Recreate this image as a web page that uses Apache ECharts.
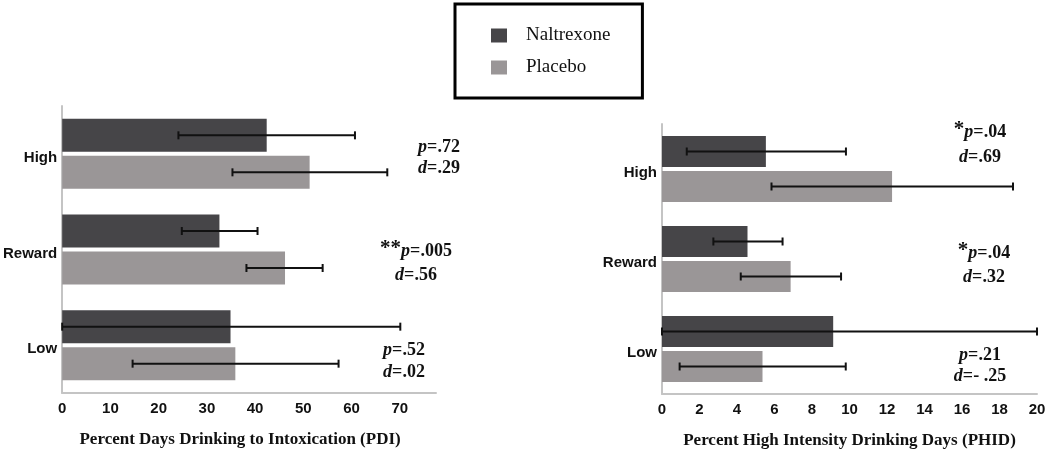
<!DOCTYPE html>
<html>
<head>
<meta charset="utf-8">
<script src="https://cdn.jsdelivr.net/npm/echarts@6/dist/echarts.min.js"></script>
<style>
html,body{margin:0;padding:0;background:#fff;}
#chart{width:1050px;height:460px;}
</style>
</head>
<body>
<div id="chart"></div>
<script>
const categories = ['High', 'Reward', 'Low'];
const seriesNames = ['Naltrexone', 'Placebo'];

// Left panel: Percent Days Drinking to Intoxication (PDI)
const pdiNaltrexone = [42.4, 32.6, 34.9];
const pdiPlacebo = [51.3, 46.2, 35.9];
const pdiNaltrexoneErrLow = [24.1, 24.8, 0];
const pdiNaltrexoneErrHigh = [60.7, 40.5, 70.1];
const pdiPlaceboErrLow = [35.3, 38.2, 14.6];
const pdiPlaceboErrHigh = [67.4, 54.0, 57.3];
const pdiTicks = [0, 10, 20, 30, 40, 50, 60, 70];
const pdiStars = ['', '**', ''];
const pdiP = ['.72', '.005', '.52'];
const pdiD = ['.29', '.56', '.02'];

// Right panel: Percent High Intensity Drinking Days (PHID)
const phidNaltrexone = [5.54, 4.56, 9.13];
const phidPlacebo = [12.27, 6.86, 5.36];
const phidNaltrexoneErrLow = [1.32, 2.74, 0];
const phidNaltrexoneErrHigh = [9.81, 6.43, 20.0];
const phidPlaceboErrLow = [5.84, 4.2, 0.94];
const phidPlaceboErrHigh = [18.72, 9.55, 9.8];
const phidTicks = [0, 2, 4, 6, 8, 10, 12, 14, 16, 18, 20];
const phidStars = ['*', '*', ''];
const phidP = ['.04', '.04', '.21'];
const phidD = ['.69', '.32', '- .25'];

const titles = ['Percent Days Drinking to Intoxication (PDI)', 'Percent High Intensity Drinking Days (PHID)'];

const DARK = '#464548';
const LIGHT = '#9a9697';
const AXIS = '#c4c4c4';
const SERIF = '"Liberation Serif", "Times New Roman", serif';
const SANS = '"Liberation Sans", Arial, sans-serif';

function errData(lo, hi) {
  return lo.map((v, i) => [v, hi[i], i]);
}

function errSeries(name, idx, lo, hi, barW, gap, sign) {
  return {
    type: 'custom',
    name: name,
    xAxisIndex: idx, yAxisIndex: idx,
    clip: false,
    z: 5,
    encode: { x: [0, 1], y: 2 },
    data: errData(lo, hi),
    renderItem: function (params, api) {
      const cat = api.value(2);
      const a = api.coord([api.value(0), cat]);
      const b = api.coord([api.value(1), cat]);
      const off = sign * (barW + gap) / 2;
      const y = a[1] + off;
      const cap = 4;
      const st = { stroke: '#111', lineWidth: 2 };
      return {
        type: 'group',
        children: [
          { type: 'line', shape: { x1: a[0], y1: y, x2: b[0], y2: y }, style: st },
          { type: 'line', shape: { x1: a[0], y1: y - cap, x2: a[0], y2: y + cap }, style: st },
          { type: 'line', shape: { x1: b[0], y1: y - cap, x2: b[0], y2: y + cap }, style: st }
        ]
      };
    }
  };
}

function xAxisDef(idx, max, interval, ticks, title, namePad) {
  return {
    type: 'value', gridIndex: idx, min: 0, max: max, interval: interval,
    splitLine: { show: false },
    axisTick: { show: false },
    axisLine: { show: true, lineStyle: { color: AXIS, width: 2 } },
    axisLabel: {
      margin: 8,
      color: '#111', fontFamily: SANS, fontWeight: 'bold', fontSize: 15,
      showMaxLabel: ticks.indexOf(max) >= 0,
      formatter: function (v) { return ticks.indexOf(v) >= 0 ? String(v) : ''; }
    },
    name: title, nameLocation: 'middle', nameGap: 38,
    nameTextStyle: { color: '#111', fontFamily: SERIF, fontWeight: 'bold', fontSize: 17, padding: namePad }
  };
}

function yAxisDef(idx) {
  return {
    type: 'category', gridIndex: idx, data: categories, inverse: true,
    axisTick: { show: false },
    axisLine: { show: true, lineStyle: { color: AXIS, width: 2 } },
    axisLabel: {
      margin: 5, color: '#111', fontFamily: SANS, fontWeight: 'bold', fontSize: 15,
      verticalAlign: 'top', lineHeight: 8
    }
  };
}

function annotP(x, y, star, p) {
  return {
    type: 'text', x: x, y: y, z: 10,
    style: {
      text: '{s|' + star + '}{i|p}=' + p,
      fontFamily: SERIF, fontWeight: 'bold', fontSize: 18, fill: '#111',
      align: 'center', verticalAlign: 'middle',
      rich: {
        s: { fontFamily: SERIF, fontWeight: 'bold', fontSize: 21, fill: '#111', padding: [0, 0, 4, 0] },
        i: { fontFamily: SERIF, fontWeight: 'bold', fontStyle: 'italic', fontSize: 18, fill: '#111' }
      }
    }
  };
}

function annotD(x, y, d) {
  return {
    type: 'text', x: x, y: y, z: 10,
    style: {
      text: '{i|d}=' + d,
      fontFamily: SERIF, fontWeight: 'bold', fontSize: 18, fill: '#111',
      align: 'center', verticalAlign: 'middle',
      rich: { i: { fontFamily: SERIF, fontWeight: 'bold', fontStyle: 'italic', fontSize: 18, fill: '#111' } }
    }
  };
}

const leftPos = [[439, 147, 168], [416, 251, 275], [404, 350, 372]];
const rightPos = [[980, 132, 157], [984, 253, 277], [980, 355, 376]];
const graphics = [];
for (let i = 0; i < 3; i++) {
  graphics.push(annotP(leftPos[i][0], leftPos[i][1], pdiStars[i], pdiP[i]));
  graphics.push(annotD(leftPos[i][0], leftPos[i][2], pdiD[i]));
  graphics.push(annotP(rightPos[i][0], rightPos[i][1], phidStars[i], phidP[i]));
  graphics.push(annotD(rightPos[i][0], rightPos[i][2], phidD[i]));
}

const chart = echarts.init(document.getElementById('chart'), null, { renderer: 'canvas' });
chart.setOption({
  animation: false,
  backgroundColor: '#fff',
  color: [DARK, LIGHT],
  legend: {
    data: seriesNames,
    orient: 'vertical',
    left: 455, top: 4,
    padding: [22, 32, 21, 36],
    borderColor: '#000', borderWidth: 3,
    itemWidth: 16, itemHeight: 14, itemGap: 13,
    icon: 'rect',
    textStyle: { fontFamily: SERIF, fontSize: 19, lineHeight: 16, color: '#111', padding: [0, 0, 0, 14] }
  },
  grid: [
    { left: 62, top: 106, width: 374, height: 287 },
    { left: 662, top: 124, width: 375, height: 270 }
  ],
  xAxis: [
    xAxisDef(0, 77.5, 10, pdiTicks, titles[0], [0, 18, 0, 0]),
    xAxisDef(1, 20, 2, phidTicks, titles[1], [0, 0, 0, 0])
  ],
  yAxis: [yAxisDef(0), yAxisDef(1)],
  series: [
    { type: 'bar', name: seriesNames[0], xAxisIndex: 0, yAxisIndex: 0, data: pdiNaltrexone, barWidth: 33, barGap: '12%', itemStyle: { color: DARK } },
    { type: 'bar', name: seriesNames[1], xAxisIndex: 0, yAxisIndex: 0, data: pdiPlacebo, barWidth: 33, barGap: '12%', itemStyle: { color: LIGHT } },
    { type: 'bar', name: seriesNames[0], xAxisIndex: 1, yAxisIndex: 1, data: phidNaltrexone, barWidth: 31, barGap: '13%', itemStyle: { color: DARK } },
    { type: 'bar', name: seriesNames[1], xAxisIndex: 1, yAxisIndex: 1, data: phidPlacebo, barWidth: 31, barGap: '13%', itemStyle: { color: LIGHT } },
    errSeries(seriesNames[0], 0, pdiNaltrexoneErrLow, pdiNaltrexoneErrHigh, 33, 4, -1),
    errSeries(seriesNames[1], 0, pdiPlaceboErrLow, pdiPlaceboErrHigh, 33, 4, 1),
    errSeries(seriesNames[0], 1, phidNaltrexoneErrLow, phidNaltrexoneErrHigh, 31, 4, -1),
    errSeries(seriesNames[1], 1, phidPlaceboErrLow, phidPlaceboErrHigh, 31, 4, 1)
  ],
  graphic: graphics
});
</script>
</body>
</html>
